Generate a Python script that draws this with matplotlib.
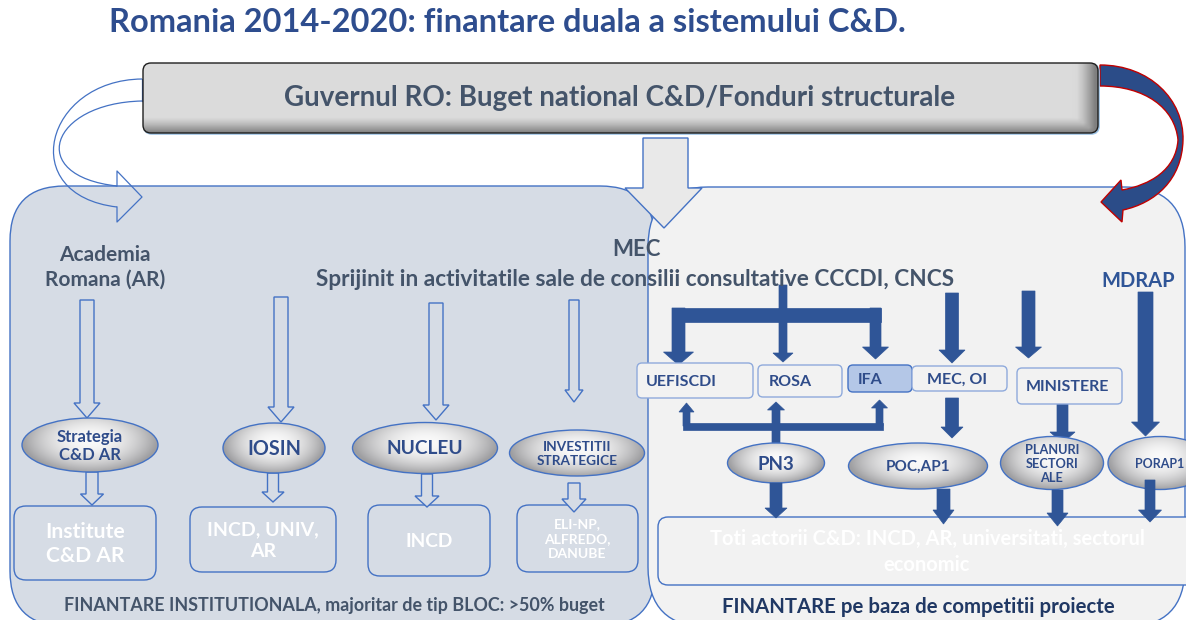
import numpy as np
import matplotlib
matplotlib.use("Agg")
import matplotlib.pyplot as plt
from matplotlib.patches import FancyBboxPatch, Ellipse, Polygon, Rectangle, PathPatch
from matplotlib.path import Path

plt.rcParams['font.family'] = ['Lato', 'DejaVu Sans']

# texts of the diagram
title = "Romania 2014-2020: finantare duala a sistemului C&D."
top_label = "Guvernul RO: Buget national C&D/Fonduri structurale"
mec_label = "MEC"
mec_sub = "Sprijinit in activitatile sale de consilii consultative CCCDI, CNCS"
ar_label = "Academia\nRomana (AR)"
mdrap_label = "MDRAP"
left_programs = ["Strategia\nC&D AR", "IOSIN", "NUCLEU", "INVESTITII\nSTRATEGICE"]
left_targets = ["Institute\nC&D AR", "INCD, UNIV,\nAR", "INCD", "ELI-NP,\nALFREDO,\nDANUBE"]
agencies = ["UEFISCDI", "ROSA", "IFA", "MEC, OI", "MINISTERE"]
right_programs = ["PN3", "POC,AP1", "PLANURI\nSECTORI\nALE", "PORAP1"]
all_actors = "Toti actorii C&D: INCD, AR, universitati, sectorul\neconomic"
left_footer = "FINANTARE INSTITUTIONALA, majoritar de tip BLOC: >50% buget"
right_footer = "FINANTARE pe baza de competitii proiecte"

# layout (pixel coordinates, y downwards)
lp_ell = [(90, 445, 136, 54, 12), (274, 448, 102, 50, 14.2), (425, 448, 145, 51, 13.8), (577, 453, 135, 46, 9.8)]
lp_box = [(14, 506, 142, 74, 15.2), (190, 507, 146, 65, 14), (368, 505, 122, 71, 13.8), (517, 505, 121, 67, 10)]
lp_long = [(87, 300, 418, 14, 26, 15), (281, 297, 422, 14, 26, 15), (436, 303, 420, 14, 26, 15), (574, 300, 402, 10, 18, 12)]
lp_short = [(92, 472, 505, 12, 23, 11), (273, 473, 502, 11, 22, 10), (427, 474, 507, 11, 24, 11), (574, 483, 512, 12, 24, 13)]
ag_box = [(637, 363, 116, 35), (758, 365, 84, 32), (848, 365, 64, 27), (912, 366, 95, 25), (1017, 368, 105, 36)]
ag_text_x = [681, 790, 870, 957, 1067]
rp_ell = [(776, 463, 97, 40, 13.5), (918, 466, 139, 46, 11), (1052, 463, 103, 53, 9.2), (1160, 463, 104, 53, 9)]

NAVY = "#2F4C8A"
SLATE = "#44546A"
BLUE = "#2F5597"
EDGE = "#4472C4"
PANEL = "#D6DCE5"

fig = plt.figure(figsize=(11.86, 6.2), dpi=100)
ax = fig.add_axes([0, 0, 1, 1])
ax.set_xlim(0, 1186)
ax.set_ylim(620, 0)
ax.axis('off')


def gradient_fill(patch, x0, y0, w, h, kind, z):
    ny, nx = 80, 160
    X, Y = np.meshgrid(np.linspace(-1, 1, nx), np.linspace(-1, 1, ny))
    if kind == 'radial':
        v = np.clip(np.sqrt(X ** 2 + ((Y + 0.2) * 0.8) ** 2), 0, 1) ** 2.0
        lo, hi = np.array([0.98, 0.98, 0.98]), np.array([0.62, 0.62, 0.63])
    else:
        v = np.clip(np.maximum((Y - 0.55) / 0.45, (X - 0.96) / 0.04), 0, 1) ** 1.3
        lo, hi = np.array([0.86, 0.86, 0.86]), np.array([0.50, 0.50, 0.50])
    img = lo + (hi - lo) * v[..., None]
    im = ax.imshow(img, extent=(x0, x0 + w, y0 + h, y0), aspect='auto', zorder=z, interpolation='bilinear')
    im.set_clip_path(patch)


def block_arrow(x, y0, y1, sw, hw, hl, fc, ec, lw=1.0, z=5):
    # vertical arrow from y0 to the tip at y1 (down or up)
    s = 1 if y1 > y0 else -1
    yb = y1 - s * hl
    pts = [(x - sw / 2, y0), (x + sw / 2, y0), (x + sw / 2, yb), (x + hw / 2, yb),
           (x, y1), (x - hw / 2, yb), (x - sw / 2, yb)]
    ax.add_patch(Polygon(pts, closed=True, fc=fc, ec=ec, lw=lw, zorder=z))


def ellipse(cx, cy, w, h, z=6):
    e = Ellipse((cx, cy), w, h, fc='none', ec=EDGE, lw=1.0, zorder=z + 1)
    ax.add_patch(e)
    gradient_fill(e, cx - w / 2, cy - h / 2, w, h, 'radial', z)


# title
ax.text(507, 22, title, ha='center', va='center', fontsize=23.5, fontweight='bold', color="#2E4D8E")

# big panels
ax.add_patch(FancyBboxPatch((10, 186), 645, 440, boxstyle="round,pad=0,rounding_size=55",
                            fc=PANEL, ec=EDGE, lw=1.0, zorder=1))
ax.add_patch(FancyBboxPatch((648, 187), 537, 440, boxstyle="round,pad=0,rounding_size=60",
                            fc="#F2F2F2", ec=EDGE, lw=1.0, zorder=2))

# top government box
tb = FancyBboxPatch((143, 63), 955, 70, boxstyle="round,pad=0,rounding_size=8",
                    fc='none', ec="#1E1E1E", lw=1.0, zorder=11)
ax.add_patch(tb)
gradient_fill(tb, 143, 63, 955, 70, 'vertical', 10)
ax.add_patch(FancyBboxPatch((144, 64), 955, 70, boxstyle="round,pad=0,rounding_size=8",
                            fc='none', ec="#9DC3E6", lw=1.2, zorder=9))
ax.text(620, 98, top_label, ha='center', va='center', fontsize=20, fontweight='bold', color=SLATE, zorder=12)

# grey arrow down from top box
pts = [(643, 138), (688, 138), (688, 188), (702, 188), (664, 228), (625, 188), (643, 188)]
ax.add_patch(Polygon(pts, closed=True, fc="#E9E9E9", ec=EDGE, lw=1.0, zorder=8))

# left curved arrow (outline)
curves = [
    [(142, 79), (45, 80), (15, 195), (117, 207)],
    [(142, 101), (50, 103), (25, 176), (117, 186)],
]
for c in curves:
    ax.add_patch(PathPatch(Path(c, [Path.MOVETO, Path.CURVE4, Path.CURVE4, Path.CURVE4]),
                           fc='none', ec=EDGE, lw=0.9, zorder=8))
ax.plot([117, 117, 142, 117, 117], [186, 171, 197, 222, 207], color=EDGE, lw=0.9, zorder=8)
ax.plot([142, 142], [79, 101], color=EDGE, lw=0.9, zorder=8)

# right curved arrow (filled)
verts = [(1100, 65), (1150, 65), (1184, 100), (1183, 140),
         (1182, 180), (1155, 203), (1123, 210),
         (1122, 222), (1101, 202), (1121, 180), (1122, 190),
         (1150, 185), (1176, 170), (1178, 140),
         (1175, 108), (1145, 86), (1100, 86), (1100, 65)]
codes = [Path.MOVETO, Path.CURVE4, Path.CURVE4, Path.CURVE4,
         Path.CURVE4, Path.CURVE4, Path.CURVE4,
         Path.LINETO, Path.LINETO, Path.LINETO, Path.LINETO,
         Path.CURVE4, Path.CURVE4, Path.CURVE4,
         Path.CURVE4, Path.CURVE4, Path.CURVE4, Path.CLOSEPOLY]
ax.add_patch(PathPatch(Path(verts, codes), fc="#2B4C88", ec="#C00000", lw=1.0, zorder=8))

# headings
ax.text(105, 267, ar_label, ha='center', va='center', fontsize=15, fontweight='bold',
        color=SLATE, linespacing=1.3, zorder=12)
ax.text(636, 250, mec_label, ha='center', va='center', fontsize=16, fontweight='bold', color=SLATE, zorder=12)
ax.text(635, 280, mec_sub, ha='center', va='center', fontsize=16.3, fontweight='bold', color=SLATE, zorder=12)
ax.text(1138, 281, mdrap_label, ha='center', va='center', fontsize=14.5, fontweight='bold', color=BLUE, zorder=12)

# left panel: hollow arrows, ellipses, boxes
for x, y0, y1, sw, hw, hl in lp_long + lp_short:
    block_arrow(x, y0, y1, sw, hw, hl, PANEL, EDGE)
for (cx, cy, w, h, fs), lab in zip(lp_ell, left_programs):
    ellipse(cx, cy, w, h)
    ax.text(cx, cy + 1, lab, ha='center', va='center', fontsize=fs, fontweight='bold',
            color=NAVY, linespacing=1.2, zorder=12)
for (x, y, w, h, fs), lab in zip(lp_box, left_targets):
    ax.add_patch(FancyBboxPatch((x, y), w, h, boxstyle="round,pad=0,rounding_size=12",
                                fc=PANEL, ec=EDGE, lw=1.0, zorder=4))
    ax.text(x + w / 2, y + h / 2 + 1, lab, ha='center', va='center', fontsize=fs, fontweight='bold',
            color='white', linespacing=1.3, zorder=12)

ax.text(334, 606, left_footer, ha='center', va='center', fontsize=12.9, fontweight='bold', color=SLATE, zorder=12)

# right panel: thick blue arrows (upper bracket)
ax.add_patch(Rectangle((672, 308), 209, 14, fc=BLUE, ec=BLUE, lw=0.5, zorder=5))
block_arrow(678.5, 308, 365, 13, 30, 13, BLUE, BLUE, 0.5)
block_arrow(783, 285, 362, 8, 20, 9, BLUE, BLUE, 0.5)
block_arrow(875.5, 308, 359, 11, 26, 12, BLUE, BLUE, 0.5)
block_arrow(952, 293, 363, 13, 26, 13, BLUE, BLUE, 0.5)
block_arrow(1028.5, 291, 358, 13, 26, 11, BLUE, BLUE, 0.5)
block_arrow(1145.5, 292, 436, 15, 28, 14, BLUE, BLUE, 0.5)

# agency boxes
for (x, y, w, h), lab, tx in zip(ag_box, agencies, ag_text_x):
    ifa = lab == "IFA"
    ax.add_patch(FancyBboxPatch((x, y), w, h, boxstyle="round,pad=0,rounding_size=5",
                                fc="#B4C7E7" if ifa else "#F2F2F2", ec=EDGE if ifa else "#8FAADC",
                                lw=1.0, zorder=6))
    ax.text(tx, y + h / 2 + 1, lab, ha='center', va='center', fontsize=11.5, fontweight='bold',
            color=NAVY, zorder=12)

# lower bracket (PN3 up to agencies)
ax.add_patch(Rectangle((683, 423), 200, 7, fc=BLUE, ec=BLUE, lw=0.5, zorder=5))
block_arrow(686.5, 426, 403, 7, 15, 9, BLUE, BLUE, 0.5)
block_arrow(776, 445, 402, 8, 17, 8, BLUE, BLUE, 0.5)
block_arrow(879.5, 426, 400, 7, 16, 8, BLUE, BLUE, 0.5)
block_arrow(952, 398, 438, 13, 22, 11, BLUE, BLUE, 0.5)
block_arrow(1062.5, 404, 443, 11, 25, 11, BLUE, BLUE, 0.5)

# right ellipses
for (cx, cy, w, h, fs), lab in zip(rp_ell, right_programs):
    ellipse(cx, cy, w, h)
    ax.text(cx, cy + 1, lab, ha='center', va='center', fontsize=fs, fontweight='bold',
            color=NAVY, linespacing=1.25, zorder=12)

# all actors box
ax.add_patch(FancyBboxPatch((658, 517), 545, 68, boxstyle="round,pad=0,rounding_size=10",
                            fc="#F2F2F2", ec=EDGE, lw=1.0, zorder=4))
ax.text(927, 552, all_actors, ha='center', va='center', fontsize=14.5, fontweight='bold',
        color='white', linespacing=1.35, zorder=12)

# arrows into the actors box
block_arrow(776, 483, 518, 12, 22, 10, BLUE, BLUE, 0.5, z=7)
block_arrow(943.5, 489, 524, 13, 21, 14, BLUE, BLUE, 0.5, z=7)
block_arrow(1057.5, 490, 526, 11, 21, 13, BLUE, BLUE, 0.5, z=7)
block_arrow(1150, 480, 522, 10, 23, 12, BLUE, BLUE, 0.5, z=7)

ax.text(918, 607, right_footer, ha='center', va='center', fontsize=14.7, fontweight='bold', color="#203864", zorder=12)

ax.set_xlim(0, 1186)
ax.set_ylim(620, 0)
fig.savefig("out.png", dpi=100)
